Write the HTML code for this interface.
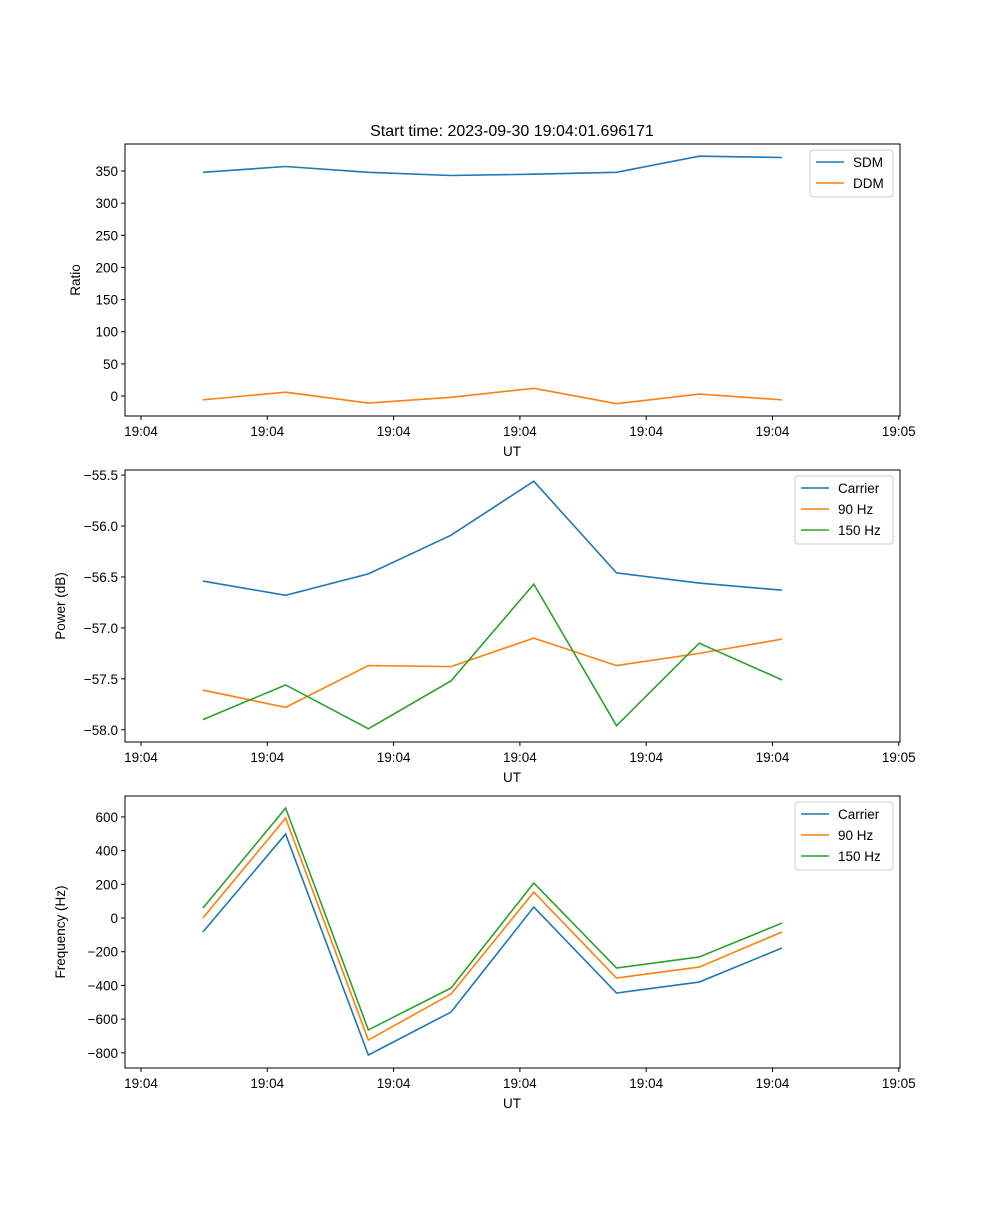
<!DOCTYPE html>
<html><head><meta charset="utf-8"><style>
body{margin:0;background:#fff}
svg{font-family:"Liberation Sans","DejaVu Sans",sans-serif}
</style></head><body>
<svg id="fig" width="1000" height="1200" xmlns="http://www.w3.org/2000/svg">
<rect width="1000" height="1200" fill="#fff"/>
<text x="512" y="136" font-size="16" text-anchor="middle">Start time: 2023-09-30 19:04:01.696171</text>
</svg>
<script>
// shared time axis (seconds after 19:04:00)
const times = [4.9, 11.45, 18.0, 24.55, 31.1, 37.65, 44.2, 50.75];
const xTicks = [0, 10, 20, 30, 40, 50, 60];
const xTickLabels = ["19:04","19:04","19:04","19:04","19:04","19:04","19:05"];
// panel 1
const sdm = [348, 357, 348, 343, 345, 348, 373, 371];
const ddm = [-6, 6, -11, -2, 12, -12, 3, -6];
const ratioTicks = [0, 50, 100, 150, 200, 250, 300, 350];
// panel 2
const pCarrier = [-56.54, -56.68, -56.47, -56.09, -55.56, -56.46, -56.56, -56.63];
const p90 = [-57.61, -57.78, -57.37, -57.38, -57.10, -57.37, -57.25, -57.11];
const p150 = [-57.90, -57.56, -57.99, -57.52, -56.57, -57.96, -57.15, -57.51];
const powerTicks = [-58.0, -57.5, -57.0, -56.5, -56.0, -55.5];
// panel 3
const fCarrier = [-83, 498, -813, -558, 65, -445, -380, -178];
const f90 = [0, 593, -724, -451, 154, -356, -291, -83];
const f150 = [59, 652, -664, -415, 208, -297, -231, -30];
const freqTicks = [-800, -600, -400, -200, 0, 200, 400, 600];

const NS = "http://www.w3.org/2000/svg";
const svg = document.getElementById('fig');
function el(tag, attrs, parent){const e=document.createElementNS(NS,tag);for(const k in attrs)e.setAttribute(k,attrs[k]);(parent||svg).appendChild(e);return e;}
const L=125,R=900;
function xs(t){return 141 + t*12.63;}
const colors={blue:"#1f77b4",orange:"#ff7f0e",green:"#2ca02c"};

function panel(id, top, bottom, ymin, ymax, ticks, fmt, ylabel, series, legend){
  const g=el('g',{});
  
  
  const ys=v=>bottom-(v-ymin)/(ymax-ymin)*(bottom-top);
  ticks.forEach(t=>{
    const y=ys(t);
    el('line',{x1:L-4,x2:L,y1:y,y2:y,stroke:'#000','stroke-width':1},g);
    const tx=el('text',{x:L-7,y:y+5,'font-size':13.5,'text-anchor':'end'},g);
    
    
    tx.textContent=fmt(t).replace('-','\u2212');
  });
  xTicks.forEach((t,i)=>{
    const x=xs(t);
    el('line',{x1:x,x2:x,y1:bottom,y2:bottom+4,stroke:'#000'},g);
    const tx=el('text',{x:x,y:bottom+20,'font-size':13.5,'text-anchor':'middle'},g);
    
    
    tx.textContent=xTickLabels[i];
  });
  const xl=el('text',{x:512,y:bottom+40,'font-size':13.5,'text-anchor':'middle'},g);
  
  
  xl.textContent='UT';
  const yx = ylabel==='Ratio'?80:(L-60);
  const yl=el('text',{x:yx,y:(top+bottom)/2,'font-size':13.5,'text-anchor':'middle',transform:`rotate(-90 ${yx} ${(top+bottom)/2})`},g);
  
  
  yl.textContent=ylabel;
  series.forEach(s=>{
    const p=el('polyline',{points:s.data.map((v,i)=>xs(times[i])+','+ys(v)).join(' '),fill:'none',stroke:s.color,'stroke-width':1.6},g);
    
    
  });
  el('rect',{x:L,y:top,width:R-L,height:bottom-top,fill:'none',stroke:'#000','stroke-width':1},g);
  const lg=el('g',{},g);
  
  
  el('rect',{x:legend.x,y:top+6,width:893-legend.x,height:series.length*21+5,fill:'#fff',stroke:'#ccc',rx:3},lg);
  series.forEach((s,i)=>{
    const y=top+18+i*21;
    el('line',{x1:legend.x+6,x2:legend.x+34,y1:y,y2:y,stroke:s.color,'stroke-width':1.6},lg);
    const t=el('text',{x:legend.x+43,y:y+5,'font-size':13.5},lg);
    
    
    t.textContent=s.name;
  });
}
panel('ratio',144,416,-31.1,392,ratioTicks,v=>String(v),'Ratio',
  [{name:'SDM',data:sdm,color:colors.blue},{name:'DDM',data:ddm,color:colors.orange}],{x:810});
panel('power',470,742,-58.12,-55.45,powerTicks,v=>v.toFixed(1),'Power (dB)',
  [{name:'Carrier',data:pCarrier,color:colors.blue},{name:'90 Hz',data:p90,color:colors.orange},{name:'150 Hz',data:p150,color:colors.green}],{x:795});
panel('frequency',796,1068,-890,724,freqTicks,v=>String(v),'Frequency (Hz)',
  [{name:'Carrier',data:fCarrier,color:colors.blue},{name:'90 Hz',data:f90,color:colors.orange},{name:'150 Hz',data:f150,color:colors.green}],{x:795});
</script>
</body></html>
